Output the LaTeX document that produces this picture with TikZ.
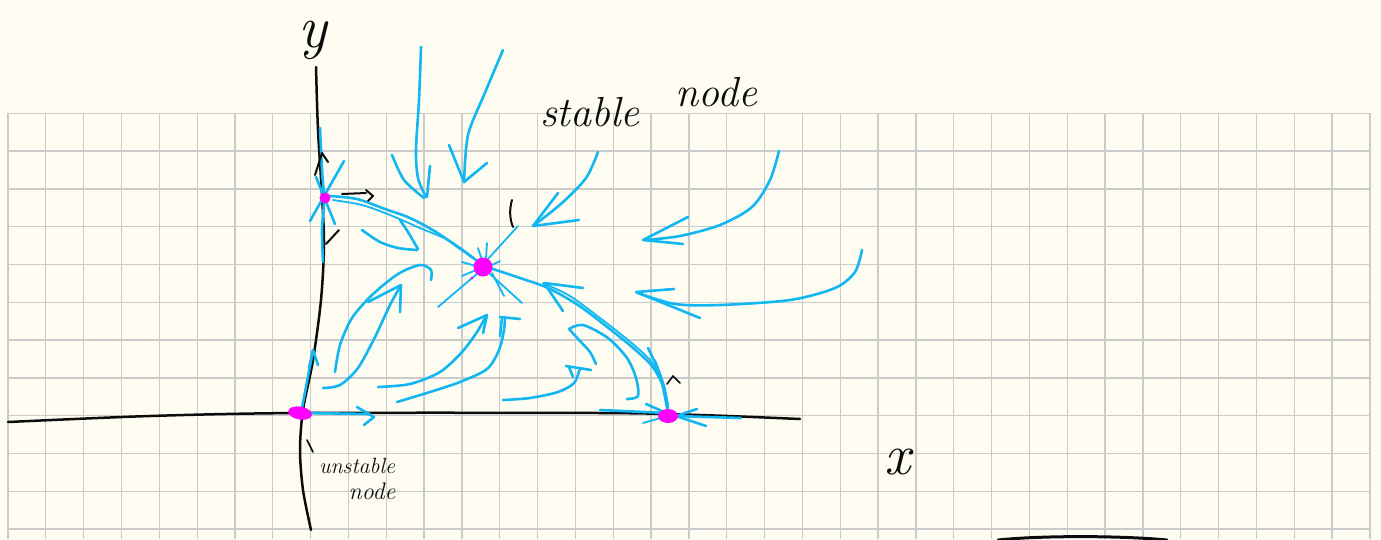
\documentclass[tikz,border=0pt]{standalone}
\definecolor{paper}{RGB}{255,253,242}
\definecolor{gridgray}{RGB}{203,203,203}
\definecolor{ink}{RGB}{12,12,12}
\definecolor{flowblue}{RGB}{18,182,240}
\definecolor{dotmag}{RGB}{255,0,255}
\tikzset{
  gridline/.style={gridgray, line width=1.3pt},
  axis/.style={ink, line width=2.5pt, line cap=round, line join=round},
  pen/.style={ink, line width=2pt, line cap=round, line join=round},
  flow/.style={flowblue, line width=2.6pt, line cap=round, line join=round},
  thinflow/.style={flowblue, line width=1.8pt, line cap=round, line join=round},
  fixedpt/.style={fill=dotmag, draw=none},
  hand/.style={ink, inner sep=0pt},
}
\begin{document}
\begin{tikzpicture}[x=1pt,y=-1pt]
\fill[paper] (0,0) rectangle (1381,539);
\useasboundingbox (0,0) rectangle (1381,539);

% squared paper
\foreach \i in {0,...,36} \draw[gridline] ({8+37.83*\i},113.3) -- ({8+37.83*\i},539);
\foreach \j in {0,...,11} \draw[gridline] (8,{113.3+37.8*\j}) -- (1369.9,{113.3+37.8*\j});

% equilibria
\coordinate (O) at (300,413);
\coordinate (Ystar) at (325,198);
\coordinate (S) at (483,267);
\coordinate (Xstar) at (668,416);

% axes
\draw[axis] plot[smooth] coordinates {(316,67) (318,130) (322,195) (324,245) (321,300) (313,360) (303,410) (300,450) (303,490) (311,530)};
\draw[axis] plot[smooth] coordinates {(8,422) (150,416) (300,413) (600,413) (700,415) (800,419)};
\draw[axis, line width=3pt] (998,540) .. controls (1040,535.5) and (1120,535.5) .. (1167,540);

% axis labels
\node[hand, font=\itshape\fontsize{60}{60}\selectfont] (ylab) at (313,40) {y};
\node[hand, font=\itshape\fontsize{58}{58}\selectfont] (xlab) at (898,462) {x};

% flows from above
\draw[flow] plot[smooth] coordinates {(421,47) (419,100) (416,150) (418,178) (426,197)};
\draw[flow] plot[smooth] coordinates {(392,155) (404,180) (424,198)};
\draw[flow] (430,166) -- (427,197);

\draw[flow] plot[smooth] coordinates {(503,50) (484,95) (468,135) (464,182)};
\draw[flow] (449,145) -- (464,182) -- (487,163);

\draw[flow] plot[smooth] coordinates {(598,152) (586,178) (562,203) (533,226)};
\draw[flow] (558,193) -- (533,226) -- (579,220);
\draw[thinflow] (518,226) -- (488,259);

\draw[flow] plot[smooth] coordinates {(779,151) (770,180) (752,207) (720,225) (680,236) (645,240)};
\draw[flow] (688,217) -- (643,240) -- (683,244);

\draw[flow] plot[smooth] coordinates {(862,250) (855,272) (835,288) (790,300) (720,305) (675,304) (638,293)};
\draw[flow] (674,289) -- (636,292) -- (700,318);

% orbit from the point on the y-axis to the stable node
\draw[flow] plot[smooth] coordinates {(330,196) (357,199) (385,209) (410,218) (436,232) (462,250) (480,263)};
\draw[thinflow] plot[smooth] coordinates {(333,200) (362,205) (390,215) (420,228) (448,240) (470,255) (478,262)};
\draw[pen] (342,194) -- (366,193);
\draw[pen] (366,190) -- (373,196) -- (368,201);

\draw[flow] plot[smooth] coordinates {(362,230) (380,242) (398,248) (417,250)};
\draw[flow] plot[smooth] coordinates {(400,220) (408,232) (418,249)};

% star at the point on the y-axis
\draw[flow] plot[smooth] coordinates {(320,128) (322,170) (324,200) (322,230) (323,262)};
\draw[flow] (344,161) -- (310,221);
\draw[flow] (316,177) -- (335,224);
\draw[pen] (315,175) -- (322,153) -- (328,162);
\draw[pen] (339,230) -- (326,244);

% rays into the stable node
\draw[thinflow] (438,307) -- (478,273);
\draw[thinflow] (522,303) -- (490,274);
\draw[thinflow] (504,296) -- (492,273);
\draw[thinflow] (487,243) -- (486,258);
\draw[thinflow] (478,248) -- (482,260);
\draw[thinflow] (462,262) -- (476,266);
\draw[thinflow] (462,276) -- (476,270);
\draw[thinflow] (500,261) -- (490,266);

% orbit from the point on the x-axis to the stable node
\draw[flow] plot[smooth] coordinates {(490,268) (520,278) (548,288) (578,305) (606,326) (632,347) (652,366) (663,386) (668,408)};
\draw[thinflow] plot[smooth] coordinates {(543,283) (570,296) (600,318) (628,340) (650,360) (662,380) (667,405)};
\draw[flow] (583,288) -- (544,283) -- (563,311);
\draw[flow] plot[smooth] coordinates {(648,348) (660,375) (667,408)};
\draw[thinflow] plot[smooth] coordinates {(655,360) (664,385) (668,405)};
\draw[pen, line width=1.6pt] (667,384) -- (673,376) -- (680,383);

% along the x-axis near the saddle
\draw[flow] (600,410) -- (667,413);
\draw[flow] (646,404) -- (662,411);
\draw[flow] (741,418) -- (675,416);
\draw[flow] (697,409) -- (676,416) -- (706,426);
\draw[thinflow] (643,423) -- (664,417);

% lower right region
\draw[flow] plot[smooth] coordinates {(569,329) (580,341) (590,352) (596,364)};
\draw[flow] plot[smooth] coordinates {(569,329) (583,325) (608,338) (627,358) (636,378) (638,396) (627,399)};
\draw[flow] plot[smooth] coordinates {(503,400) (530,398) (558,392) (574,383) (580,368)};
\draw[flow] (566,366) -- (591,370);
\draw[flow] (569,367) -- (573,377);

% lower left region
\draw[flow] plot[smooth] coordinates {(335,372) (340,345) (352,318) (372,295) (398,274) (420,265) (431,270) (431,280)};
\draw[flow] plot[smooth] coordinates {(323,388) (340,385) (358,368) (375,337) (390,305) (401,285)};
\draw[flow] (368,302) -- (401,285) -- (400,312);
\draw[flow] plot[smooth] coordinates {(378,387) (410,384) (440,372) (462,352) (477,332) (486,316)};
\draw[flow] (458,328) -- (487,315) -- (483,333);
\draw[flow] plot[smooth] coordinates {(397,402) (430,392) (460,382) (487,369) (499,350) (504,330) (505,317)};
\draw[flow] (500,317) -- (520,319);
\draw[flow] (500,336) -- (502,318);

% out of the origin
\draw[flow] (302,408) -- (313,350);
\draw[flow] (309,368) -- (313,350) -- (318,365);
\draw[flow] (303,413) -- (370,414);
\draw[flow] (357,407) -- (374,417) -- (364,425);

% equilibria
\fill[fixedpt, rotate around={-10:(O)}] (O) ellipse [x radius=12, y radius=6.5];
\fill[fixedpt] (Ystar) circle [radius=5.5];
\fill[fixedpt] (S) circle [radius=9.5];
\fill[fixedpt] (472,278) circle [radius=1.5];
\fill[fixedpt] (Xstar) ellipse [x radius=10, y radius=7];

% labels
\draw[pen] (512,200) .. controls (509,210) and (510,220) .. (513,227);
\node[hand, font=\itshape\fontsize{42}{42}\selectfont] (stableword) at (590,112) {stable};
\node[hand, font=\itshape\fontsize{42}{42}\selectfont] (nodeword) at (716,92) {node};
\draw[pen, line width=1.6pt] (307,440) -- (313,452);
\node[hand, font=\itshape\fontsize{22}{22}\selectfont] (unstword) at (357,466) {unstable};
\node[hand, font=\itshape\fontsize{24}{24}\selectfont] (node2word) at (372,491) {node};
\end{tikzpicture}
\end{document}
